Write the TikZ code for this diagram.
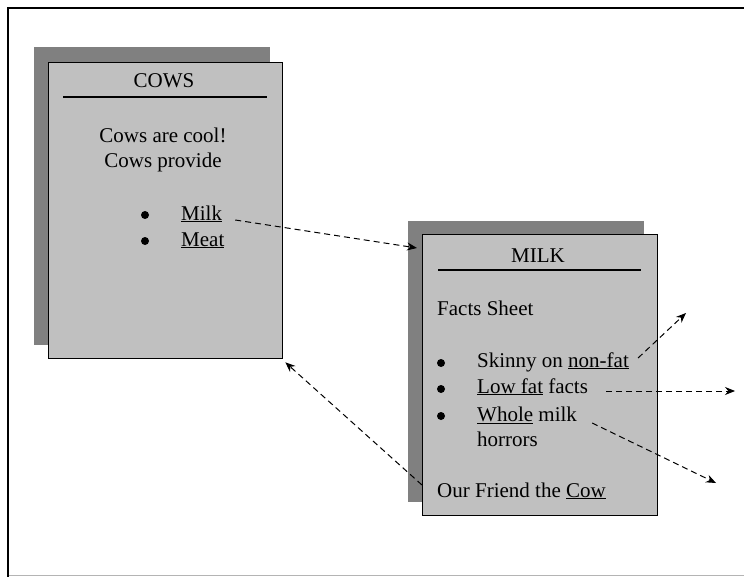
\documentclass[tikz,border=0pt]{standalone}
\usepackage{fontspec}
\setmainfont{Liberation Serif}
\usetikzlibrary{arrows.meta}
\definecolor{shadowgray}{HTML}{808080}
\definecolor{boxgray}{HTML}{C0C0C0}
\definecolor{edgegray}{HTML}{B4B4B4}
\tikzset{
  shadowbox/.style={fill=shadowgray, draw=none, anchor=north west, inner sep=0pt},
  cardbox/.style={fill=boxgray, draw=black, line width=1.3pt, anchor=north west, inner sep=0pt},
  txt/.style={font=\fontsize{21}{25}\selectfont, inner sep=0pt, anchor=base west},
  ctxt/.style={font=\fontsize{21}{25}\selectfont, inner sep=0pt, anchor=base},
  bul/.style={circle, fill=black, draw=none, inner sep=0pt, minimum size=8pt},
  rule/.style={line width=1.2pt},
  link/.style={line width=1pt, dash pattern=on 6pt off 4pt, -{Stealth[length=10pt,width=8pt]}}
}
\begin{document}
\begin{tikzpicture}[x=1pt,y=-1pt]
\useasboundingbox (0,0) rectangle (744,580);
% frame
\draw[edgegray, line width=1pt] (8,575.5) -- (744,575.5);
\draw[black, line width=2.5pt] (744,8) -- (8,8) -- (8,577);

% COWS card
\node[shadowbox, minimum width=236pt, minimum height=298pt] (cowshadow) at (34,47) {};
\node[cardbox, minimum width=234pt, minimum height=296pt] (cows) at (48,62) {};
\draw[rule] (63,97) -- (267,97);
\node[ctxt] (cowstitle) at (164,88) {COWS};
\node[ctxt] (cool) at (163,143) {Cows are cool!};
\node[ctxt] (provide) at (163,168) {Cows provide};
\node[bul] (b1) at (145,215) {};
\node[bul] (b2) at (145,241) {};
\node[txt] (milkw) at (181,220) {\underline{Milk}};
\node[txt] (meat) at (181,246) {\underline{Meat}};

% MILK card
\node[shadowbox, minimum width=236pt, minimum height=281pt] (milkshadow) at (408,221) {};
\node[cardbox, minimum width=235pt, minimum height=281pt] (milk) at (422,234) {};
\draw[rule] (438,270) -- (641,270);
\node[ctxt] (milktitle) at (538,262) {MILK};
\node[txt] (facts) at (437,315) {Facts Sheet};
\node[bul] (m1) at (441,363) {};
\node[bul] (m2) at (441,389) {};
\node[bul] (m3) at (441,416) {};
\node[txt] (skinny) at (477,367) {Skinny on \underline{non-fat}};
\node[txt] (lowfat) at (477,393) {\underline{Low fat} facts};
\node[txt] (whole) at (477,421) {\underline{Whole} milk};
\node[txt] (horrors) at (477,446) {horrors};
\node[txt] (friend) at (437,497) {Our Friend the \underline{Cow}};

% free ends
\coordinate (out1) at (686,313);
\coordinate (out2) at (735,391);
\coordinate (out3) at (716,483);

% connectors
\draw[link] ([xshift=13pt]milkw.base east) -- ([xshift=-5pt,yshift=-14pt]milk.north west);
\draw[link] ([xshift=-15pt,yshift=12pt]friend.base west) -- ([xshift=2pt,yshift=-3pt]cows.south east);
\draw[link] ([xshift=9pt,yshift=9pt]skinny.base east) -- (out1);
\draw[link] ([xshift=18pt,yshift=2pt]lowfat.base east) -- (out2);
\draw[link] ([xshift=15pt,yshift=-2pt]whole.base east) -- (out3);
\end{tikzpicture}
\end{document}
